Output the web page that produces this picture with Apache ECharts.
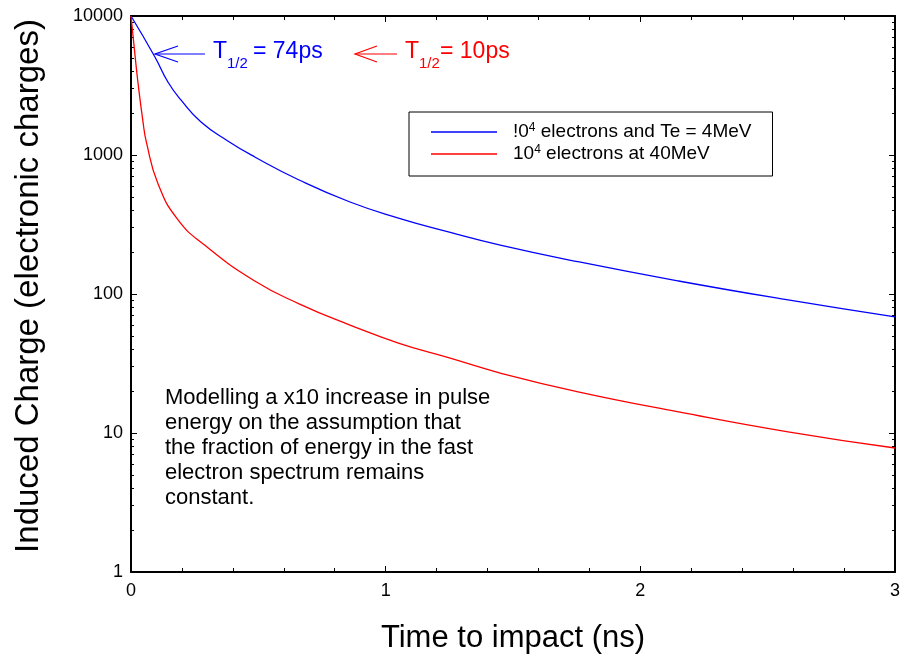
<!DOCTYPE html>
<html>
<head>
<meta charset="utf-8">
<script src="https://cdn.jsdelivr.net/npm/echarts@6/dist/echarts.min.js"></script>
<style>html,body{margin:0;padding:0;background:#fff;}#c{width:903px;height:660px;}</style>
</head>
<body>
<div id="c"></div>
<script>
// ---- data ----
var seriesNames = ['!04 electrons and Te = 4MeV', '104 electrons at 40MeV'];
var blueT = [0, 0.094, 0.145, 0.196, 0.275, 0.38, 0.486, 0.66, 0.86, 1.05, 1.25, 1.45, 1.76, 2.15, 2.58, 3.0];
var blueQ = [10000, 5070, 3350, 2490, 1725, 1262, 968, 661, 459, 352, 279, 225, 170, 124, 90.6, 68.4];
var redT = [0, 0.0145, 0.027, 0.047, 0.06, 0.106, 0.184, 0.29, 0.486, 0.66, 0.86, 1.05, 1.25, 1.45, 1.76, 2.15, 2.58, 3.0];
var redQ = [10000, 5500, 3365, 1738, 1250, 622, 343, 224, 124, 85, 59.8, 44.4, 34.7, 27.0, 19.7, 14.2, 10.2, 7.8];
var xTicks = [0, 1, 2, 3];
var yTicks = [1, 10, 100, 1000, 10000];

function pairs(t, q) { return t.map(function (v, i) { return [v, q[i]]; }); }

var FONT = "'Liberation Sans', Arial, sans-serif";
var NARROW = "'Liberation Sans Narrow', 'Liberation Sans', Arial, sans-serif";

function xAxisCfg(pos, labels) {
  return {
    type: 'value', position: pos, min: xTicks[0], max: xTicks[xTicks.length - 1], interval: 1,
    axisLine: { show: true, onZero: false, lineStyle: { color: '#000', width: 2 } },
    axisTick: { show: true, inside: true, length: 6, lineStyle: { color: '#000', width: 1 } },
    minorTick: { show: true, splitNumber: 5, length: 4, lineStyle: { color: '#000', width: 1 } },
    splitLine: { show: false }, minorSplitLine: { show: false },
    axisLabel: { show: labels, color: '#000', fontSize: 18, fontFamily: NARROW, margin: 10 },
    name: labels ? 'Time to impact (ns)' : '', nameLocation: 'middle', nameGap: 51,
    nameTextStyle: { color: '#000', fontSize: 31, fontFamily: FONT }
  };
}
function yAxisCfg(pos, labels) {
  return {
    type: 'log', logBase: 10, position: pos, min: yTicks[0], max: yTicks[yTicks.length - 1],
    axisLine: { show: true, onZero: false, lineStyle: { color: '#000', width: 2 } },
    axisTick: { show: true, inside: true, length: 6, lineStyle: { color: '#000', width: 1 } },
    minorTick: { show: true, splitNumber: 9, length: 3, lineStyle: { color: '#000', width: 1 } },
    splitLine: { show: false }, minorSplitLine: { show: false },
    axisLabel: { show: labels, color: '#000', fontSize: 18, fontFamily: FONT, margin: 8,
      formatter: function (v) { return String(Math.round(v)); } },
    name: labels ? 'Induced Charge (electronic charges)' : '', nameLocation: 'middle', nameGap: 86,
    nameTextStyle: { color: '#000', fontSize: 33, fontFamily: FONT, padding: [0, 0, 0, 16] }
  };
}

var chart = echarts.init(document.getElementById('c'), null, { renderer: 'canvas' });
var richText = {
  a: { fontSize: 19, fontFamily: FONT, color: '#000', lineHeight: 20 },
  s: { fontSize: 12, fontFamily: FONT, color: '#000', lineHeight: 20, verticalAlign: 'top', padding: [0, 0, 10, 0] }
};
chart.setOption({
  animation: false,
  backgroundColor: '#fff',
  grid: { left: 131, right: 8, top: 16, bottom: 88 },
  xAxis: [xAxisCfg('bottom', true), xAxisCfg('top', false)],
  yAxis: [yAxisCfg('left', true), yAxisCfg('right', false)],
  legend: {
    orient: 'vertical', left: 409, top: 112, icon: 'rect', itemWidth: 66, itemHeight: 1.5, itemGap: 0,
    borderColor: '#000', borderWidth: 1, padding: [10, 21, 10, 22], selectedMode: false,
    data: seriesNames,
    formatter: function (name) {
      if (name === seriesNames[0]) return '{a|!0}{s|4}{a| electrons and Te = 4MeV}';
      return '{a|10}{s|4}{a| electrons at 40MeV}';
    },
    textStyle: { padding: [0, 0, 0, 11], rich: richText }
  },
  series: [
    { name: seriesNames[0], type: 'line', xAxisIndex: 0, yAxisIndex: 0, data: pairs(blueT, blueQ),
      showSymbol: false, smooth: 0.5, lineStyle: { color: '#0000ff', width: 1.3 }, itemStyle: { color: '#0000ff' } },
    { name: seriesNames[1], type: 'line', xAxisIndex: 0, yAxisIndex: 0, data: pairs(redT, redQ),
      showSymbol: false, smooth: 0.5, lineStyle: { color: '#ff0000', width: 1.3 }, itemStyle: { color: '#ff0000' } }
  ],
  graphic: [
    { type: 'polyline', shape: { points: [[155, 54], [205, 54]] }, style: { stroke: '#0000ff', lineWidth: 1.2 } },
    { type: 'polyline', shape: { points: [[178, 46], [155, 54], [178, 62]] }, style: { stroke: '#0000ff', lineWidth: 1.2, fill: null } },
    { type: 'text', x: 213, y: 52, style: { text: 'T', fontSize: 23, fontFamily: FONT, fill: '#0000ff', verticalAlign: 'middle' } },
    { type: 'text', x: 227, y: 64, style: { text: '1/2', fontSize: 15, fontFamily: FONT, fill: '#0000ff', verticalAlign: 'middle' } },
    { type: 'text', x: 253, y: 52, style: { text: '= 74ps', fontSize: 23, fontFamily: FONT, fill: '#0000ff', verticalAlign: 'middle' } },
    { type: 'polyline', shape: { points: [[355, 54], [397, 54]] }, style: { stroke: '#ff0000', lineWidth: 1.2 } },
    { type: 'polyline', shape: { points: [[377, 46], [355, 54], [377, 62]] }, style: { stroke: '#ff0000', lineWidth: 1.2, fill: null } },
    { type: 'text', x: 405, y: 52, style: { text: 'T', fontSize: 23, fontFamily: FONT, fill: '#ff0000', verticalAlign: 'middle' } },
    { type: 'text', x: 419, y: 64, style: { text: '1/2', fontSize: 15, fontFamily: FONT, fill: '#ff0000', verticalAlign: 'middle' } },
    { type: 'text', x: 440, y: 52, style: { text: '= 10ps', fontSize: 23, fontFamily: FONT, fill: '#ff0000', verticalAlign: 'middle' } },
    { type: 'text', x: 165, y: 385, style: {
        text: 'Modelling a x10 increase in pulse\nenergy on the assumption that\nthe fraction of energy in the fast\nelectron spectrum remains\nconstant.',
        fontSize: 22, lineHeight: 25, fontFamily: FONT, fill: '#000', verticalAlign: 'top' } }
  ]
});
</script>
</body>
</html>
